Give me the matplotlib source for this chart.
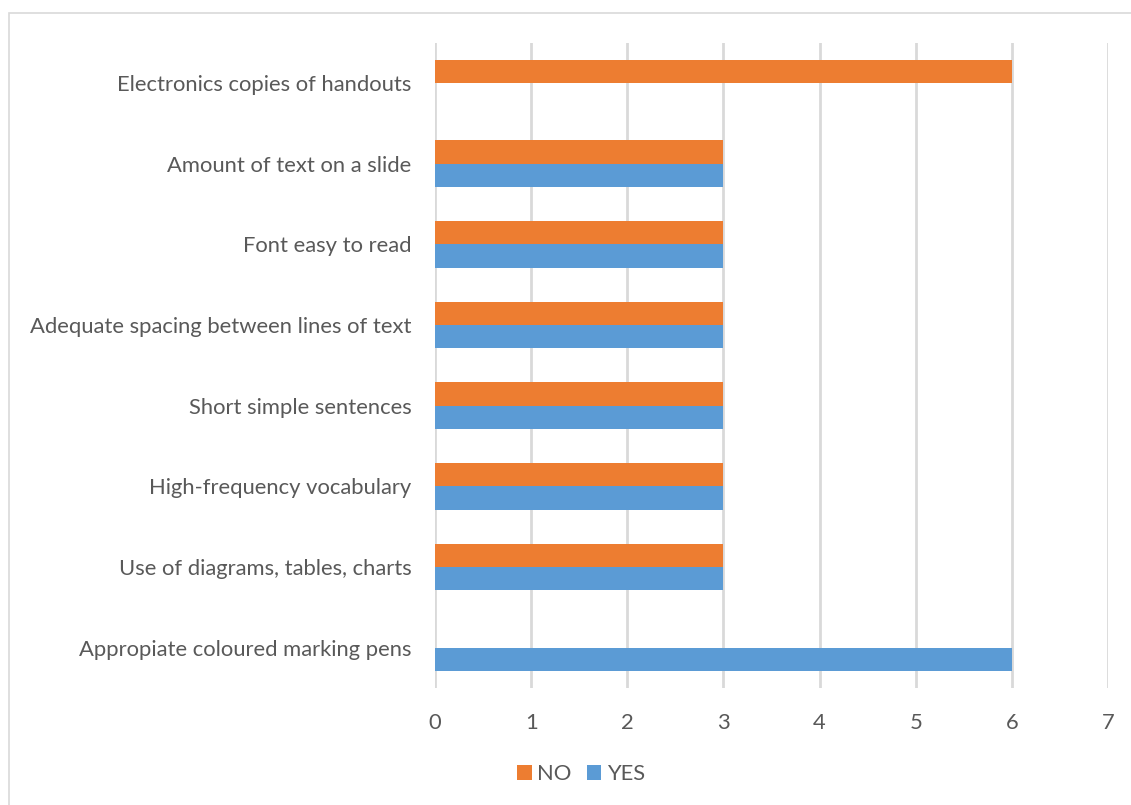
import matplotlib.pyplot as plt
from matplotlib.patches import Rectangle
import numpy as np

categories = [
    "Appropiate coloured marking pens",
    "Use of diagrams, tables, charts",
    "High-frequency vocabulary",
    "Short simple sentences",
    "Adequate spacing between lines of text",
    "Font easy to read",
    "Amount of text on a slide",
    "Electronics copies of handouts",
]
yes_values = [6, 3, 3, 3, 3, 3, 3, 0]
no_values = [0, 3, 3, 3, 3, 3, 3, 6]
x_ticks = [0, 1, 2, 3, 4, 5, 6, 7]

BLUE = "#5B9BD5"
ORANGE = "#ED7D31"
GRID = "#D9D9D9"
TEXT = "#595959"

plt.rcParams["font.family"] = ["Lato", "DejaVu Sans"]

fig = plt.figure(figsize=(11.31, 8.05), dpi=100)
W, H = 1131, 805
ax = fig.add_axes([435 / W, 1 - 688 / H, (1108 - 435) / W, (688 - 42.7) / H])

# outer chart frame
fig.patches.append(Rectangle((9 / W, -0.1), 1.2, 1 - 13.5 / H + 0.1,
                             transform=fig.transFigure, fill=False,
                             edgecolor="#D9D9D9", linewidth=1.2))

y = np.arange(len(categories))
h = 0.289
ax.barh(y - h / 2, yes_values, height=h, color=BLUE, label="YES", zorder=3)
ax.barh(y + h / 2, no_values, height=h, color=ORANGE, label="NO", zorder=3)

ax.set_xlim(0, 7)
ax.set_ylim(-0.5, len(categories) - 0.5)
ax.set_xticks(x_ticks)
ax.set_xticklabels([str(t) for t in x_ticks])
ax.set_yticks(y)
ax.set_yticklabels(categories)
ax.tick_params(axis="both", length=0, labelcolor=TEXT, labelsize=15.8)
ax.tick_params(axis="y", pad=17)
ax.tick_params(axis="x", pad=18)
ax.xaxis.grid(True, color=GRID, linewidth=2, zorder=0)
for s in ax.spines.values():
    s.set_visible(False)

handles, labels = ax.get_legend_handles_labels()
fig.legend(handles[::-1], labels[::-1], loc="center", bbox_to_anchor=(581 / W, 1 - 774 / H),
           ncol=2, frameon=False, fontsize=15.8, labelcolor=TEXT,
           handlelength=0.65, handleheight=0.65, handletextpad=0.25, columnspacing=0.7)

fig.savefig("out.png", dpi=100)
